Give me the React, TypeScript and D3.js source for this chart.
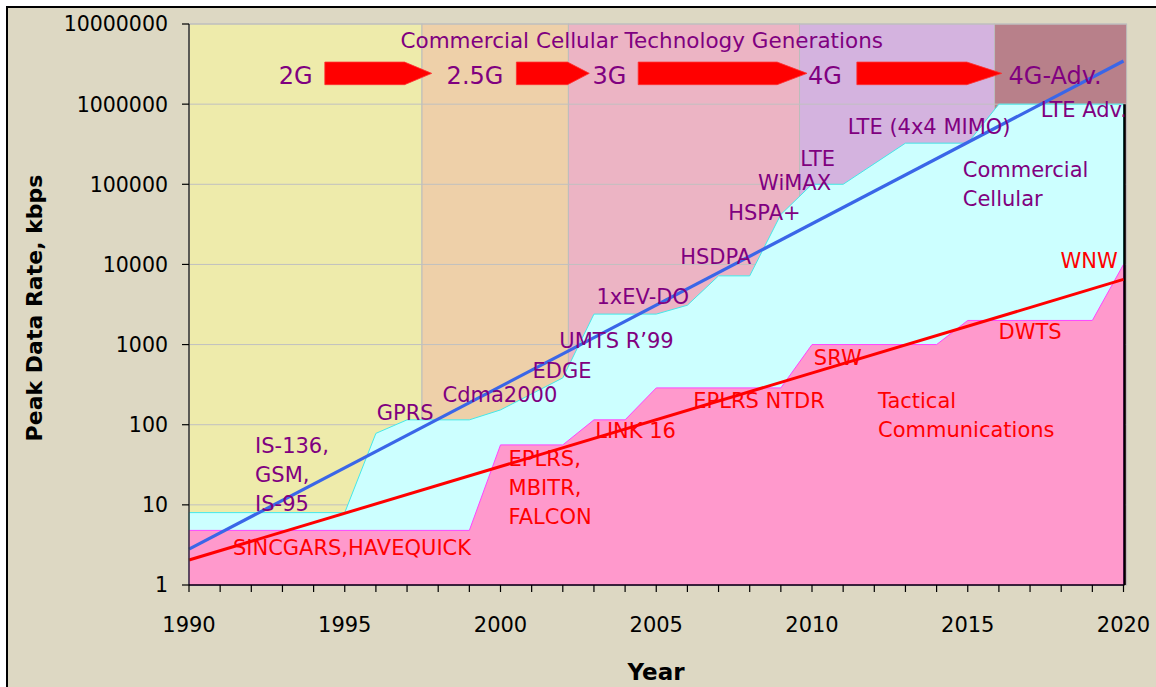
import React from "react";
import * as d3 from "d3";

const W = 1156;
const H = 687;

// Commercial cellular peak data rate envelope (kbps)
const cellYears = [1990, 1995, 1996, 1997, 1999, 2000, 2002, 2003, 2005, 2006, 2007, 2008, 2009, 2010, 2011, 2013, 2015, 2016, 2020];
const cellRates = [8, 8, 78, 115, 115, 153, 384, 2400, 2400, 3100, 7200, 7200, 42000, 100000, 100000, 326000, 326000, 1000000, 1000000];

// Tactical communications peak data rate envelope (kbps)
const tacYears = [1990, 1999, 2000, 2002, 2003, 2004, 2005, 2009, 2010, 2014, 2015, 2019, 2020];
const tacRates = [4.8, 4.8, 56, 56, 115, 115, 288, 288, 1000, 1000, 2000, 2000, 10000];

// exponential trend lines
const trendYears = [1990, 2020];
const cellTrend = [2.8, 3450000];
const tacTrend = [2.05, 6500];

// technology generation eras
const genNames = ["2G", "2.5G", "3G", "4G", "4G-Adv."];
const genStarts = [1990, 1997.48, 2002.18, 2009.6, 2015.86];
const genEnds = [1997.48, 2002.18, 2009.6, 2015.86, 2020.1];
const genLabelYears = [1992.88, 1998.27, 2002.95, 2009.87, 2016.31];
const genLabelRate = 1.79e6;

// arrows between generation names
const arrowStarts = [1994.36, 2000.51, 2004.42, 2011.44];
const arrowBodyEnds = [1996.92, 2002.15, 2008.88, 2014.97];
const arrowTips = [1997.79, 2002.85, 2009.84, 2016.09];
const arrowTop = 3.35e6;
const arrowBottom = 1.75e6;

const cellLabels = [
  { lines: ["IS-136,", "GSM,", "IS-95"], year: 1992.12, rate: 44 },
  { lines: ["GPRS"], year: 1996.03, rate: 113 },
  { lines: ["Cdma2000"], year: 1998.14, rate: 190 },
  { lines: ["EDGE"], year: 2001.03, rate: 378 },
  { lines: ["UMTS R\u201999"], year: 2001.89, rate: 894 },
  { lines: ["1xEV-DO"], year: 2003.08, rate: 3250 },
  { lines: ["HSDPA"], year: 2005.77, rate: 10230 },
  { lines: ["HSPA+"], year: 2007.31, rate: 36100 },
  { lines: ["WiMAX"], year: 2008.27, rate: 85200 },
  { lines: ["LTE"], year: 2009.62, rate: 170000 },
  { lines: ["LTE (4x4 MIMO)"], year: 2011.15, rate: 425000 },
  { lines: ["LTE Adv."], year: 2017.34, rate: 692000 },
  { lines: ["Commercial", "Cellular"], year: 2014.84, rate: 124000 },
];

const tacLabels = [
  { lines: ["SINCGARS,HAVEQUICK"], year: 1991.41, rate: 2.36 },
  { lines: ["EPLRS,", "MBITR,", "FALCON"], year: 2000.26, rate: 30.3 },
  { lines: ["LINK 16"], year: 2003.04, rate: 67.7 },
  { lines: ["EPLRS NTDR"], year: 2006.19, rate: 160 },
  { lines: ["SRW"], year: 2010.06, rate: 550 },
  { lines: ["Tactical", "Communications"], year: 2012.12, rate: 160 },
  { lines: ["DWTS"], year: 2015.99, rate: 1157 },
  { lines: ["WNW"], year: 2017.98, rate: 9120 },
];

const titleText = "Commercial Cellular Technology Generations";
const titleYear = 1996.79;
const titleRate = 5.0e6;

const yTicks = [1, 10, 100, 1000, 10000, 100000, 1000000, 10000000];
const xLabelYears = [1990, 1995, 2000, 2005, 2010, 2015, 2020];

const bandColors = ["#eeebab", "#eed0a9", "#ecb4c4", "#d4b3df", "#b8808a"];
const FONT = "DejaVu Sans";
const PURPLE = "#800080";

export default function App() {
  const x = d3.scaleLinear().domain([1990, 2020]).range([189, 1123.5]);
  const y = d3.scaleLog().domain([1, 1e7]).range([585, 24]);

  const area = d3
    .area<[number, number]>()
    .x((d) => x(d[0]))
    .y0(y(1))
    .y1((d) => y(d[1]));
  const line = d3
    .line<[number, number]>()
    .x((d) => x(d[0]))
    .y((d) => y(d[1]));

  const cellData = cellYears.map((yr, i) => [yr, cellRates[i]] as [number, number]);
  const tacData = tacYears.map((yr, i) => [yr, tacRates[i]] as [number, number]);
  const cellTrendData = trendYears.map((yr, i) => [yr, cellTrend[i]] as [number, number]);
  const tacTrendData = trendYears.map((yr, i) => [yr, tacTrend[i]] as [number, number]);

  const plotLeft = x(1990);
  const plotRight = x(2020.1);
  const plotTop = y(1e7);
  const plotBottom = y(1);

  const arrowPath = (i: number) => {
    const x0 = x(arrowStarts[i]);
    const xb = x(arrowBodyEnds[i]);
    const xt = x(arrowTips[i]);
    const t = y(arrowTop);
    const b = y(arrowBottom);
    return `M${x0},${t}L${xb},${t}L${xt},${(t + b) / 2}L${xb},${b}L${x0},${b}Z`;
  };

  const renderLabel = (l: { lines: string[]; year: number; rate: number }, color: string, key: string) => (
    <text key={key} x={x(l.year)} y={y(l.rate)} fill={color} fontSize={21} fontFamily={FONT}>
      {l.lines.map((s, j) => (
        <tspan key={j} x={x(l.year)} dy={j === 0 ? 0 : 29}>
          {s}
        </tspan>
      ))}
    </text>
  );

  return (
    <svg width={W} height={H} style={{ position: "absolute", left: 0, top: 0 }} fontFamily={FONT}>
      <defs>
        <clipPath id="plotClip">
          <rect x={plotLeft} y={plotTop} width={x(2020) + 1 - plotLeft} height={plotBottom - plotTop} />
        </clipPath>
      </defs>
      <rect x={0} y={0} width={W} height={H} fill="#ffffff" />
      <rect x={7} y={7} width={W + 10} height={H + 10} fill="#ddd8c3" stroke="#000" strokeWidth={2} />

      {/* generation bands */}
      {genNames.map((g, i) => (
        <rect
          key={g}
          x={x(genStarts[i])}
          y={plotTop}
          width={x(genEnds[i]) - x(genStarts[i])}
          height={plotBottom - plotTop}
          fill={bandColors[i]}
          stroke="#bcbcbc"
          strokeWidth={1}
        />
      ))}

      {/* horizontal gridlines */}
      {yTicks.slice(1).map((t) => (
        <line key={t} x1={plotLeft} x2={plotRight} y1={y(t)} y2={y(t)} stroke="#c0c0c0" strokeWidth={1} />
      ))}

      {/* areas */}
      <path d={area(cellData) || ""} fill="#ccffff" stroke="#44e8e8" strokeWidth={1} />
      <path d={area(tacData) || ""} fill="#ff99cc" stroke="#ff44ff" strokeWidth={1} />

      {/* right edge */}
      <line x1={x(2020) + 1} x2={x(2020) + 1} y1={y(1e6)} y2={plotBottom} stroke="#000" strokeWidth={2.5} />

      {/* trend lines */}
      <path d={line(cellTrendData) || ""} fill="none" stroke="#3a66e8" strokeWidth={3.2} />
      <path d={line(tacTrendData) || ""} fill="none" stroke="#ff0000" strokeWidth={3} />

      {/* generation arrows and names */}
      {arrowStarts.map((_, i) => (
        <path key={i} d={arrowPath(i)} fill="#ff0000" stroke="#ff3030" strokeWidth={0.8} />
      ))}
      {genNames.map((g, i) => (
        <text key={g} x={x(genLabelYears[i])} y={y(genLabelRate)} fill={PURPLE} fontSize={24}>
          {g}
        </text>
      ))}
      <text x={x(titleYear)} y={y(titleRate)} fill={PURPLE} fontSize={21.5}>
        {titleText}
      </text>

      {/* annotations */}
      <g clipPath="url(#plotClip)">
        {cellLabels.map((l, i) => renderLabel(l, PURPLE, "c" + i))}
        {tacLabels.map((l, i) => renderLabel(l, "#ff0000", "t" + i))}
      </g>

      {/* axes */}
      <line x1={plotLeft} x2={plotLeft} y1={plotTop} y2={plotBottom} stroke="#333" strokeWidth={1.5} />
      <line x1={plotLeft} x2={x(2020) + 1} y1={plotBottom} y2={plotBottom} stroke="#000" strokeWidth={1.5} />
      {yTicks.map((t) => (
        <g key={t}>
          <line x1={plotLeft - 7} x2={plotLeft} y1={y(t)} y2={y(t)} stroke="#000" strokeWidth={1.2} />
          <text x={168} y={y(t)} dy="0.36em" textAnchor="end" fontSize={20.5} fill="#000">
            {t}
          </text>
        </g>
      ))}
      {d3.range(1990, 2021).map((yr) => (
        <line key={yr} x1={x(yr)} x2={x(yr)} y1={plotBottom} y2={plotBottom + 7} stroke="#000" strokeWidth={1.2} />
      ))}
      {xLabelYears.map((yr) => (
        <text key={yr} x={x(yr)} y={632} textAnchor="middle" fontSize={21} fill="#000">
          {yr}
        </text>
      ))}
      <text x={656} y={680} textAnchor="middle" fontSize={23} fontWeight="bold" fill="#000">
        Year
      </text>
      <text
        transform={`translate(42,308) rotate(-90)`}
        textAnchor="middle"
        fontSize={22}
        fontWeight="bold"
        fill="#000"
      >
        Peak Data Rate, kbps
      </text>
    </svg>
  );
}
